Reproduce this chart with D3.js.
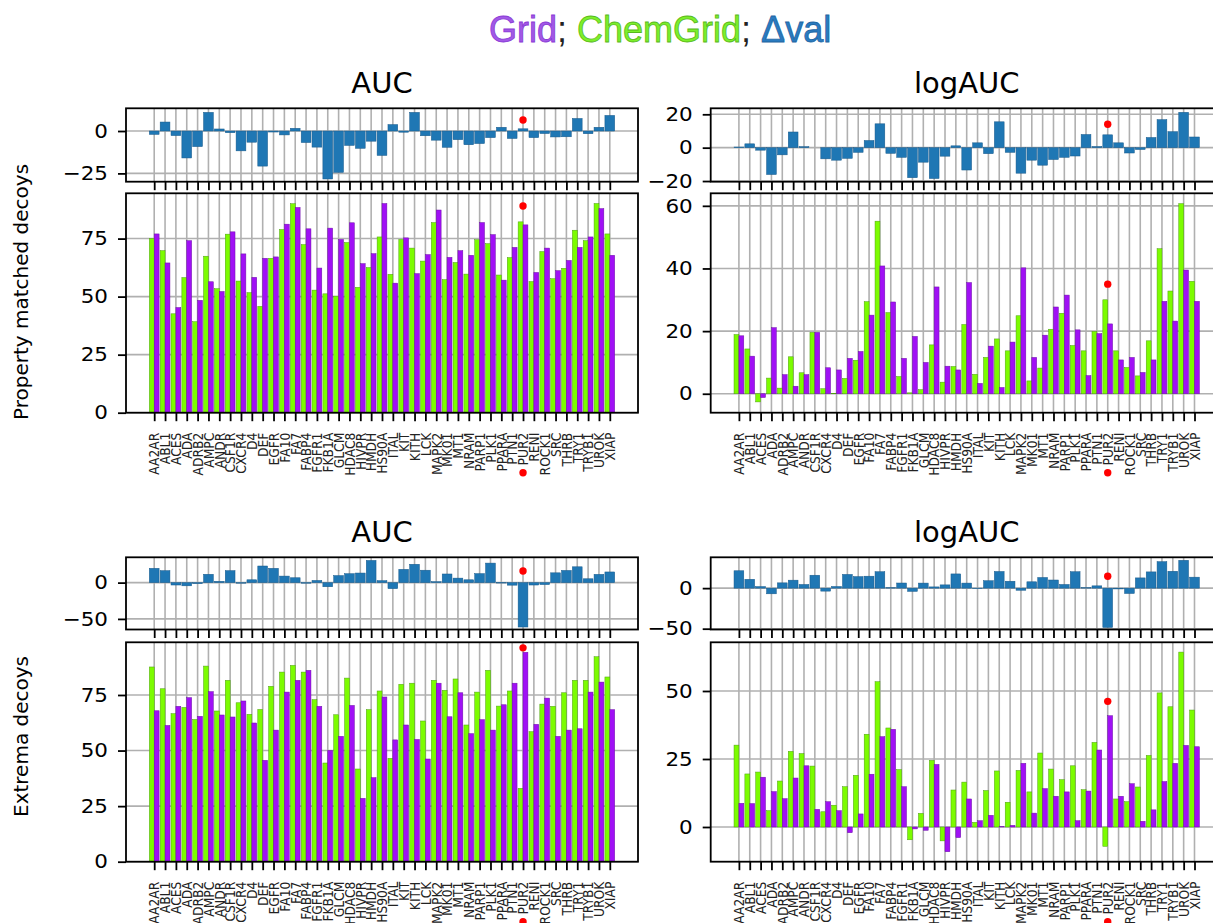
<!DOCTYPE html>
<html>
<head>
<meta charset="utf-8">
<script src="https://cdn.jsdelivr.net/npm/d3@7"></script>
<style>
  body { margin: 0; background: #fff; }
  svg { display: block; font-family: 'DejaVu Sans', sans-serif; }
</style>
</head>
<body>
<div id="chart"></div>
<script>

const CATEGORIES = ['AA2AR', 'ABL1', 'ACES', 'ADA', 'ADRB2', 'AMPC', 'ANDR', 'CSF1R', 'CXCR4', 'D4',
    'DEF', 'EGFR', 'FA10', 'FA7', 'FABP4', 'FGFR1', 'FKB1A', 'GLCM', 'HDAC8', 'HIVPR', 'HMDH',
    'HS90A', 'ITAL', 'KIT', 'KITH', 'LCK', 'MAPK2', 'MK01', 'MT1', 'NRAM', 'PARP1', 'PLK1',
    'PPARA', 'PTN1', 'PUR2', 'RENI', 'ROCK1', 'SRC', 'THRB', 'TRY1', 'TRYB1', 'UROK', 'XIAP']
const MARKED = 'PUR2'

// property matched decoys, AUC
const PM_AUC_CHEMGRID = [75.0, 69.8, 42.6, 58.2, 39.2, 67.4, 53.4, 76.9, 56.7, 51.7, 45.8, 66.5, 78.9, 90.0, 72.4,
    52.8, 51.2, 50.2, 73.3, 54.0, 62.5, 75.7, 59.6, 74.6, 70.9, 65.3, 81.9, 57.3, 64.7, 59.7, 74.5, 72.8, 59.3,
    66.8, 82.2, 56.5, 69.4, 57.7, 62.2, 78.6, 74.1, 90.1, 77.0]
const PM_AUC_GRID = [77.0, 64.5, 45.3, 74.1, 48.4, 56.4, 52.2, 77.9, 68.4, 58.3, 66.5, 67.1, 81.2, 88.4, 79.2,
    62.3, 79.5, 74.6, 81.8, 64.2, 68.5, 90.1, 55.8, 75.3, 59.9, 68.1, 87.3, 66.9, 69.8, 67.8, 81.9, 76.7, 57.1,
    71.2, 80.9, 60.4, 70.9, 61.2, 65.6, 71.2, 75.7, 87.9, 67.8]
const PM_AUC_DELTA = [-2.0, 5.3, -2.7, -15.9, -9.2, 11.0, 1.2, -1.0, -11.7, -6.6, -20.7, -0.6, -2.3, 1.6, -6.8,
    -9.5, -28.3, -24.4, -8.5, -10.2, -6.0, -14.4, 3.8, -0.7, 11.0, -2.8, -5.4, -9.6, -5.1, -8.1, -7.4, -3.9, 2.2,
    -4.4, 1.3, -3.9, -1.5, -3.5, -3.4, 7.4, -1.6, 2.2, 9.2]

// property matched decoys, logAUC
const PM_LOGAUC_CHEMGRID = [18.9, 14.3, -2.6, 5.0, 1.8, 11.8, 6.7, 19.6, 1.6, 0.1, 4.9, 10.7, 29.4, 55.1, 25.9,
    5.5, 0.3, 1.3, 15.6, 3.7, 8.7, 22.1, 6.2, 11.6, 17.5, 13.7, 24.9, 4.1, 8.2, 20.6, 25.7, 15.4, 13.7,
    19.9, 30.0, 13.7, 8.4, 5.7, 16.9, 46.3, 32.8, 60.7, 35.9]
const PM_LOGAUC_GRID = [18.5, 12.0, -1.2, 21.1, 6.1, 2.4, 6.1, 19.6, 8.3, 7.6, 11.3, 13.5, 25.1, 40.8, 29.3,
    11.3, 18.3, 10.0, 34.1, 8.8, 7.6, 35.5, 3.3, 15.2, 2.0, 16.5, 40.2, 11.6, 18.7, 27.7, 31.5, 20.4, 5.8,
    19.2, 22.3, 10.8, 11.6, 6.8, 10.8, 29.5, 23.2, 39.5, 29.5]
const PM_LOGAUC_DELTA = [0.4, 2.3, -1.5, -16.1, -4.3, 9.4, 0.6, 0.0, -6.7, -7.5, -6.4, -2.8, 4.3, 14.3, -3.4,
    -5.8, -18.0, -8.7, -18.5, -5.1, 1.1, -13.4, 2.9, -3.6, 15.5, -2.8, -15.3, -7.5, -10.5, -7.1, -5.8, -5.0, 7.9,
    0.7, 7.7, 2.9, -3.2, -1.1, 6.1, 16.8, 9.6, 21.2, 6.4]

// extrema decoys, AUC
const EX_AUC_CHEMGRID = [87.6, 77.8, 66.6, 69.4, 64.0, 88.0, 67.8, 81.6, 71.5, 66.3, 68.5, 78.9, 85.3, 88.3, 85.3,
    72.9, 44.4, 66.1, 82.6, 41.7, 68.4, 76.8, 46.5, 79.8, 80.3, 63.3, 81.6, 77.1, 82.2, 61.5, 76.3, 86.1, 70.0,
    76.8, 33.0, 58.5, 70.9, 69.9, 76.0, 81.6, 81.6, 92.2, 83.1]
const EX_AUC_GRID = [67.9, 61.3, 69.9, 73.8, 65.4, 76.5, 66.0, 65.1, 72.3, 62.4, 45.6, 59.2, 76.3, 81.6, 86.1,
    69.9, 50.1, 56.4, 70.3, 28.5, 37.8, 74.1, 54.8, 61.5, 55.0, 46.2, 80.3, 65.2, 76.0, 57.6, 63.9, 59.2, 70.6,
    80.3, 94.2, 61.8, 73.6, 56.4, 59.2, 59.8, 76.3, 80.8, 68.4]
const EX_AUC_DELTA = [19.7, 16.5, -3.3, -4.4, -1.4, 11.5, 1.8, 16.5, -0.8, 3.9, 22.9, 19.7, 9.0, 6.7, -0.8,
    3.0, -5.7, 9.7, 12.3, 13.2, 30.6, 2.7, -8.3, 18.3, 25.3, 17.1, 1.3, 11.9, 6.2, 3.9, 12.4, 26.9, -0.6,
    -3.5, -61.2, -3.3, -2.7, 13.5, 16.8, 21.8, 5.3, 11.4, 14.7]

// extrema decoys, logAUC
const EX_LOGAUC_CHEMGRID = [30.1, 19.5, 20.2, 6.0, 16.9, 27.8, 27.0, 22.4, 5.6, 8.0, 14.8, 19.0, 34.1, 53.4, 36.4,
    21.1, -4.7, 5.0, 24.5, -5.1, 13.6, 16.5, 1.7, 13.4, 20.6, 9.1, 20.8, 12.9, 27.2, 21.3, 17.4, 22.5, 13.7,
    31.1, -7.1, 10.3, 9.3, 14.7, 26.3, 49.3, 44.2, 64.3, 43.0]
const EX_LOGAUC_GRID = [8.7, 8.6, 18.3, 13.0, 10.4, 18.0, 22.5, 6.5, 9.3, 6.0, -2.1, 4.8, 19.4, 33.2, 35.9,
    14.8, -0.7, -1.2, 23.0, -9.1, -3.9, 10.3, 2.3, 4.3, 0.1, 0.6, 23.4, 5.1, 14.1, 11.3, 12.9, 2.3, 13.2,
    28.3, 40.9, 11.3, 15.9, 2.1, 6.3, 16.7, 23.4, 30.0, 29.5]
const EX_LOGAUC_DELTA = [21.4, 10.9, 1.9, -7.0, 6.5, 9.8, 4.5, 15.9, -3.7, 2.0, 16.9, 14.2, 14.7, 20.2, 0.5,
    6.3, -4.0, 6.2, 1.5, 4.0, 17.5, 6.2, -0.6, 9.1, 20.5, 8.5, -2.6, 7.8, 13.1, 10.0, 4.5, 20.2, 0.5,
    2.8, -48.5, -1.0, -6.6, 12.6, 20.0, 32.6, 20.8, 34.3, 13.5]

// red marker heights for PUR2 (delta plot, main plot), one per panel
const MARK_DELTA = [6.5, 14, 16, 14.6]
const MARK_MAIN = [89, 35, 96.2, 46.2]

const COL_TITLES = ['AUC', 'logAUC']
const ROW_LABELS = ['Property matched decoys', 'Extrema decoys']
const DELTA_TICKS = [[-25, 0], [-20, 0, 20], [-50, 0], [-50, 0]]
const MAIN_TICKS = [[0, 25, 50, 75], [0, 20, 40, 60], [0, 25, 50, 75], [0, 25, 50]]

const WIDTH = 1213
const HEIGHT = 923
const PLOT_W = 512
const STEP = PLOT_W / 47.2
const COL_LEFT = [126, 710.7]
const ROWS = [
    { deltaTop: 108.3, deltaBottom: 181.7, mainTop: 193.3, mainBottom: 412.7, titleY: 93.3, labelY: 420 },
    { deltaTop: 557.3, deltaBottom: 629.5, mainTop: 642.3, mainBottom: 861.7, titleY: 541.7, labelY: 817 }
]
const GREEN = '#7cfc00'
const PURPLE = '#a010f5'
const BLUE = '#1f77b4'
const GRID_COLOR = '#b0b0b0'

const PANELS = [
    { row: 0, col: 0, chem: PM_AUC_CHEMGRID, grid: PM_AUC_GRID, delta: PM_AUC_DELTA, deltaLim: [-29.9, 13.4], mainLim: [0, 94.5] },
    { row: 0, col: 1, chem: PM_LOGAUC_CHEMGRID, grid: PM_LOGAUC_GRID, delta: PM_LOGAUC_DELTA, deltaLim: [-20.4, 23.6], mainLim: [-6.05, 64] },
    { row: 1, col: 0, chem: EX_AUC_CHEMGRID, grid: EX_AUC_GRID, delta: EX_AUC_DELTA, deltaLim: [-64.6, 34.9], mainLim: [0, 98.7] },
    { row: 1, col: 1, chem: EX_LOGAUC_CHEMGRID, grid: EX_LOGAUC_GRID, delta: EX_LOGAUC_DELTA, deltaLim: [-51, 38], mainLim: [-12.76, 67.9] }
]

const styleYAxis = g => {
    g.attr('font-size', null).attr('font-family', null)
    g.select('.domain').remove()
    g.selectAll('.tick line').attr('stroke', '#000').attr('stroke-width', 1.8)
    g.selectAll('.tick text')
        .attr('font-size', 19.5)
        .attr('fill', '#000')
        .attr('x', -18 / 1.1)
        .attr('transform', 'scale(1.1,1)')
}

const drawPanel = (svg, p, idx) => {
    const row = ROWS[p.row]
    const left = COL_LEFT[p.col]
    const right = left + PLOT_W
    const panel = svg.append('g')

    const x = d3.scalePoint()
        .domain(CATEGORIES)
        .range([left + 2.6 * STEP, right - 2.6 * STEP])
    const yDelta = d3.scaleLinear().domain(p.deltaLim).range([row.deltaBottom, row.deltaTop])
    const yMain = d3.scaleLinear().domain(p.mainLim).range([row.mainBottom, row.mainTop])

    const drawGrid = (yScale, ticks, top, bottom) => {
        const g = panel.append('g').attr('stroke', GRID_COLOR).attr('stroke-width', 1.6)
        g.selectAll('line.v').data(CATEGORIES).join('line')
            .attr('x1', d => x(d)).attr('x2', d => x(d))
            .attr('y1', top).attr('y2', bottom)
        g.selectAll('line.h').data(ticks).join('line')
            .attr('x1', left).attr('x2', right)
            .attr('y1', d => yScale(d)).attr('y2', d => yScale(d))
    }
    drawGrid(yDelta, DELTA_TICKS[idx], row.deltaTop, row.deltaBottom)
    drawGrid(yMain, MAIN_TICKS[idx], row.mainTop, row.mainBottom)

    // difference bars
    panel.append('g').selectAll('rect').data(p.delta).join('rect')
        .attr('x', (d, i) => x(CATEGORIES[i]) - 0.45 * STEP)
        .attr('width', 0.9 * STEP)
        .attr('y', d => Math.min(yDelta(d), yDelta(0)))
        .attr('height', d => Math.abs(yDelta(d) - yDelta(0)))
        .attr('fill', BLUE)
        .attr('stroke', '#17598a')
        .attr('stroke-width', 0.5)

    // ChemGrid left of the tick, Grid right of it
    const bars = (values, offset, color, edge) => panel.append('g').selectAll('rect').data(values).join('rect')
        .attr('x', (d, i) => x(CATEGORIES[i]) + offset * STEP)
        .attr('width', 0.45 * STEP)
        .attr('y', d => Math.min(yMain(d), yMain(0)))
        .attr('height', d => Math.abs(yMain(d) - yMain(0)))
        .attr('fill', color)
        .attr('stroke', edge)
        .attr('stroke-width', 0.5)
    bars(p.chem, -0.45, GREEN, '#4f9f10')
    bars(p.grid, 0, PURPLE, '#6d10a8')

    // spines
    ;[[row.deltaTop, row.deltaBottom], [row.mainTop, row.mainBottom]].forEach(([t, b]) => {
        panel.append('rect')
            .attr('x', left).attr('y', t)
            .attr('width', PLOT_W).attr('height', b - t)
            .attr('fill', 'none').attr('stroke', '#000').attr('stroke-width', 1.8)
    })

    panel.append('g')
        .attr('transform', `translate(${left},0)`)
        .call(d3.axisLeft(yDelta).tickValues(DELTA_TICKS[idx]).tickSize(8).tickPadding(10))
        .call(styleYAxis)

    panel.append('g')
        .attr('transform', `translate(${left},0)`)
        .call(d3.axisLeft(yMain).tickValues(MAIN_TICKS[idx]).tickSize(8).tickPadding(10))
        .call(styleYAxis)

    panel.append('g')
        .attr('transform', `translate(0,${row.deltaBottom})`)
        .call(d3.axisBottom(x).tickSize(8.5).tickFormat(''))
        .call(g => {
            g.select('.domain').remove()
            g.selectAll('.tick line').attr('stroke', '#000').attr('stroke-width', 1.8)
        })

    panel.append('g')
        .attr('transform', `translate(0,${row.mainBottom})`)
        .call(d3.axisBottom(x).tickSize(8.5))
        .call(g => {
            g.attr('font-size', null).attr('font-family', null)
            g.select('.domain').remove()
            g.selectAll('.tick line').attr('stroke', '#000').attr('stroke-width', 1.8)
            g.selectAll('.tick text')
                .attr('font-size', 12.3)
                .attr('fill', '#222')
                .attr('text-anchor', 'end')
                .attr('x', 0)
                .attr('y', 0)
                .attr('dy', '0.36em')
                .attr('transform', 'translate(0,20) scale(1.08,1) rotate(-90)')
        })

    panel.append('text')
        .attr('x', (left + right) / 2)
        .attr('y', row.titleY)
        .attr('text-anchor', 'middle')
        .attr('font-size', 29)
        .text(COL_TITLES[p.col])

    const mx = x(MARKED)
    panel.append('g').attr('fill', '#ff0000').selectAll('circle')
        .data([yDelta(MARK_DELTA[idx]), yMain(MARK_MAIN[idx]), row.mainBottom + 60])
        .join('circle')
        .attr('cx', mx)
        .attr('cy', d => d)
        .attr('r', 3.7)
}

const main = _ => {
    const svg = d3.select('#chart')
        .append('svg')
        .attr('width', WIDTH)
        .attr('height', HEIGHT)

    svg.append('rect').attr('width', WIDTH).attr('height', HEIGHT).attr('fill', '#fff')

    PANELS.forEach((p, i) => drawPanel(svg, p, i))

    ROWS.forEach((row, i) => {
        svg.append('text')
            .attr('transform', `translate(28,${row.labelY}) rotate(-90)`)
            .attr('font-size', 20)
            .text(ROW_LABELS[i])
    })

    const title = svg.append('text')
        .attr('x', 489)
        .attr('y', 41.7)
        .attr('font-family', "'Liberation Sans', Arial, sans-serif")
        .attr('font-size', 36)
        .attr('stroke-width', 0.8)
    title.append('tspan').attr('fill', '#a259e6').attr('stroke', '#8a3ad6').text('Grid')
    title.append('tspan').attr('fill', '#222').text('; ')
    title.append('tspan').attr('fill', '#7cf02a').attr('stroke', '#58b81e').text('ChemGrid')
    title.append('tspan').attr('fill', '#222').text('; ')
    title.append('tspan').attr('fill', '#2a7bc0').attr('stroke', '#1f66a3').text('Δval')
}

document.addEventListener('DOMContentLoaded', main)
</script>
</body>
</html>
